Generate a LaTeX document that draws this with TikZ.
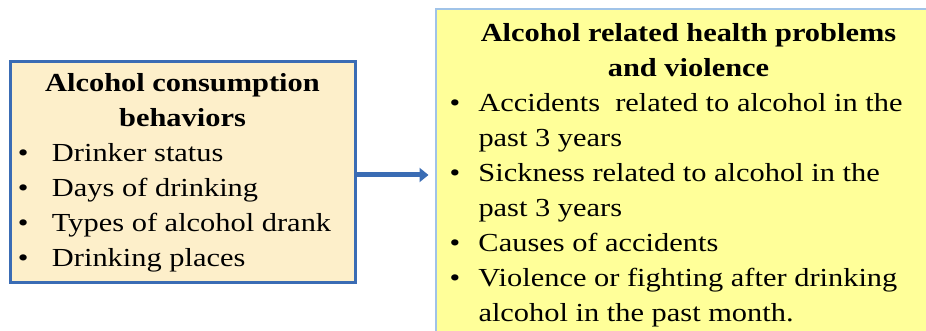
\documentclass[tikz,border=0pt]{standalone}
\usepackage{fontspec}
\setmainfont[FakeStretch=1.17]{Liberation Serif}
\usepackage{array}
\usetikzlibrary{arrows.meta,positioning}
\definecolor{behavfill}{RGB}{253,239,202}
\definecolor{behavline}{RGB}{58,108,180}
\definecolor{healthfill}{RGB}{255,255,153}
\definecolor{healthline}{RGB}{160,195,232}
\newcommand{\itm}{\textbullet}

\begin{document}
\begin{tikzpicture}[x=1pt,y=1pt,
  behavbox/.style={rectangle,draw=behavline,fill=behavfill,line width=3pt,minimum width=345pt,minimum height=221pt,inner xsep=8pt,inner ysep=0pt},
  healthbox/.style={rectangle,draw=healthline,fill=healthfill,line width=2pt,inner xsep=14pt,inner ysep=7.5pt},
  link/.style={draw=behavline,line width=5pt,-{Triangle[length=9pt,width=14pt]}},
  font=\fontsize{26}{35}\selectfont]

  \useasboundingbox (0,0) rectangle (926,331);
  \clip (0,0) rectangle (926,331);

  \node[behavbox] (behav) at (182.5,158.5) {%
    \begin{tabular}{@{}p{34pt}@{}p{295pt}@{}}
      \multicolumn{2}{@{}c@{}}{\textbf{Alcohol consumption}}\\
      \multicolumn{2}{@{}c@{}}{\textbf{behaviors}}\\
      \itm & Drinker status\\
      \itm & Days of drinking\\
      \itm & Types of alcohol drank\\
      \itm & Drinking places
    \end{tabular}};

  \node[healthbox, right=78pt of behav.north east, anchor=north west, yshift=52pt] (health) {%
    \begin{tabular}{@{}p{29pt}@{}p{449pt}@{}}
      \multicolumn{2}{@{}c@{}}{\textbf{Alcohol related health problems}}\\
      \multicolumn{2}{@{}c@{}}{\textbf{and violence}}\\
      \itm & Accidents~ related to alcohol in the\\
           & past 3 years\\
      \itm & Sickness related to alcohol in the\\
           & past 3 years\\
      \itm & Causes of accidents\\
      \itm & Violence or fighting after drinking\\
           & alcohol in the past month.
    \end{tabular}};

  \draw[link] ([yshift=-2.5pt]behav.east) -- ([xshift=-6pt,yshift=-2.5pt]health.west |- behav.east);
\end{tikzpicture}
\end{document}
